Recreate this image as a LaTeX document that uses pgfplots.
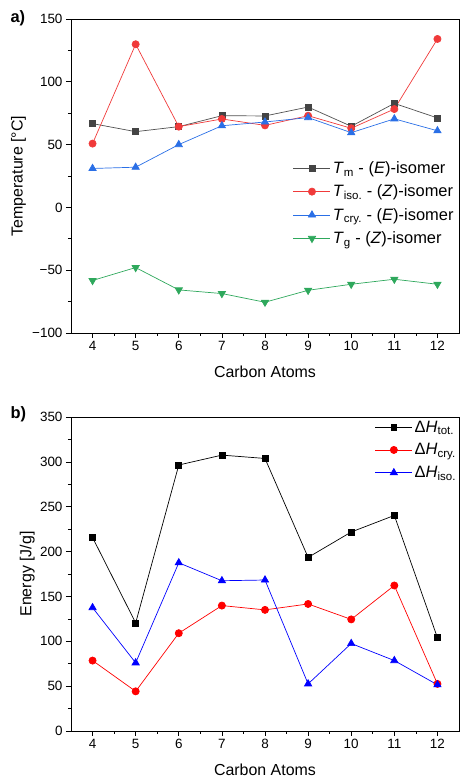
\documentclass[border=0pt]{standalone}
\usepackage{pgfplots}
\pgfplotsset{compat=1.18}
\usepackage{fontspec}
\setmainfont{Liberation Sans}
\definecolor{cTm}{HTML}{505050}
\definecolor{cTiso}{HTML}{F03A3A}
\definecolor{cTcry}{HTML}{2A6FE6}
\definecolor{cTg}{HTML}{2EA85C}
\pgfplotsset{
  myaxis/.style={
    scale only axis, width=388bp, height=314bp,
    xmin=3.5, xmax=12.5,
    xtick={4,5,6,7,8,9,10,11,12},
    minor x tick num=1, minor y tick num=1,
    tick align=outside, tick pos=left,
    major tick length=5bp, minor tick length=3bp,
    tick style={black, line width=0.6pt},
    axis line style={line width=0.6pt},
    /pgf/number format/assume math mode=true,
    ticklabel style={font=\fontsize{13.5}{15}\selectfont},
    label style={font=\fontsize{16}{19}\selectfont},
    xlabel={Carbon Atoms},
    legend cell align=left,
    legend style={draw=none, fill=none, font=\fontsize{16.5}{19}\selectfont, row sep=6bp, inner xsep=0pt, inner ysep=0pt},
    legend image code/.code={\draw[mark repeat=2,mark phase=2] plot coordinates {(0bp,0bp)(18.5bp,0bp)(37bp,0bp)};},
  }
}
\begin{document}
\begin{tikzpicture}[x=1bp,y=1bp]
\begin{axis}[myaxis,
  at={(71bp,446bp)}, anchor=south west,
  ymin=-100, ymax=150, ytick={-100,-50,0,50,100,150},
  yticklabels={−100,−50,0,50,100,150},
  ylabel={Temperature [°C]},
  ylabel style={at={(axis description cs:-0.135,0.5)}, anchor=center},
  xlabel style={at={(axis description cs:0.5,-0.124)}, anchor=center},
  legend style={at={(axis description cs:0.572,0.553)}, anchor=north west},
]
\addplot[cTm, line width=0.7pt, mark=square*, mark size=3pt, mark options={fill=cTm!85!black, draw=cTm!85!black}] coordinates {
(4,66.7)(5,60.3)(6,64.3)(7,73)(8,72.8)(9,79.9)(10,64.6)(11,82.8)(12,71.2)};
\addlegendentry{\textit{T}\textsubscript{m} - (\textit{E})-isomer}
\addplot[cTiso, line width=0.7pt, mark=*, mark size=3.6pt] coordinates {
(4,50.8)(5,129.9)(6,64.3)(7,70.4)(8,65.3)(9,73)(10,63)(11,78.3)(12,134.1)};
\addlegendentry{\textit{T}\textsubscript{iso.} - (\textit{Z})-isomer}
\addplot[cTcry, line width=0.7pt, mark=triangle*, mark size=4.2pt] coordinates {
(4,31)(5,32)(6,50)(7,65)(8,68)(9,71.5)(10,59.5)(11,70.5)(12,61)};
\addlegendentry{\textit{T}\textsubscript{cry.} - (\textit{E})-isomer}
\addplot[cTg, line width=0.7pt, mark=triangle*, mark size=4.2pt, mark options={rotate=180}] coordinates {
(4,-58.2)(5,-47.9)(6,-65.7)(7,-68.6)(8,-75.5)(9,-66)(10,-61.2)(11,-57.2)(12,-61.2)};
\addlegendentry{\textit{T}\textsubscript{g} - (\textit{Z})-isomer}
\end{axis}
\node[anchor=west, font=\fontsize{16.5}{18}\selectfont\bfseries] at (7bp,761bp) {a)};
\begin{axis}[myaxis,
  at={(71bp,48bp)}, anchor=south west,
  ymin=0, ymax=350, ytick={0,50,100,150,200,250,300,350},
  ylabel={Energy [J/g]},
  ylabel style={at={(axis description cs:-0.113,0.5)}, anchor=center},
  xlabel style={at={(axis description cs:0.5,-0.123)}, anchor=center},
  legend style={at={(axis description cs:0.783,0.995)}, anchor=north west},
]
\addplot[black, line width=0.7pt, mark=square*, mark size=3pt] coordinates {
(4,215.7)(5,120.5)(6,296.5)(7,307.5)(8,303.8)(9,193.5)(10,221.8)(11,240.3)(12,104)};
\addlegendentry{Δ\textit{H}\textsubscript{tot.}}
\addplot[red, line width=0.7pt, mark=*, mark size=3.6pt] coordinates {
(4,78.5)(5,44.2)(6,109)(7,139.8)(8,135)(9,141.6)(10,124.4)(11,162.2)(12,52.5)};
\addlegendentry{Δ\textit{H}\textsubscript{cry.}}
\addplot[blue, line width=0.7pt, mark=triangle*, mark size=4.2pt] coordinates {
(4,137.5)(5,76)(6,187.5)(7,167.5)(8,168.3)(9,52.5)(10,97.5)(11,78.5)(12,51.5)};
\addlegendentry{Δ\textit{H}\textsubscript{iso.}}
\end{axis}
\node[anchor=west, font=\fontsize{16.5}{18}\selectfont\bfseries] at (7bp,365bp) {b)};
\pgfresetboundingbox
\useasboundingbox (0,0) rectangle (460bp,779bp);
\end{tikzpicture}
\end{document}
